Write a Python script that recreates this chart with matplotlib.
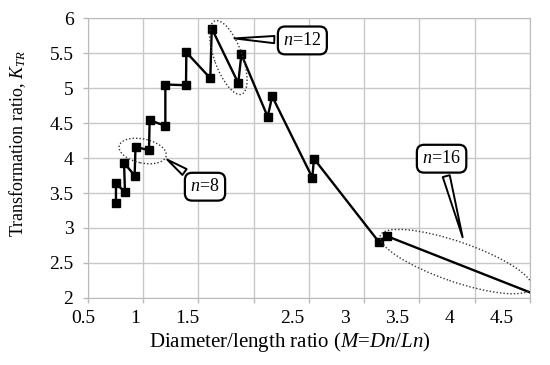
import matplotlib
matplotlib.use('Agg')
import matplotlib.pyplot as plt
from matplotlib.patches import Ellipse
from matplotlib.transforms import ScaledTranslation

dn_ln = [0.753, 0.753, 0.835, 0.826, 0.922, 0.93, 1.052, 1.058, 1.2, 1.2, 1.387, 1.39,
         1.607, 1.62, 1.86, 1.888, 2.126, 2.167, 2.53, 2.545, 3.133, 3.202, 4.5]
k_tr = [3.36, 3.64, 3.51, 3.93, 3.75, 4.16, 4.11, 4.54, 4.46, 5.05, 5.04, 5.51,
        5.14, 5.85, 5.07, 5.48, 4.59, 4.88, 3.72, 3.99, 2.80, 2.886, 2.08]
x_ticks = [0.5, 1, 1.5, 2, 2.5, 3, 3.5, 4, 4.5]
x_tick_labels = ['0.5', '1', '1.5', '', '2.5', '3', '3.5', '4', '4.5']
y_ticks = [2, 2.5, 3, 3.5, 4, 4.5, 5, 5.5, 6]
y_tick_labels = ['2', '2.5', '3', '3.5', '4', '4.5', '5', '5.5', '6']

# groups: label, ellipse centre, ellipse size (px), angle, text pos, tail tip
groups = [
    ('8', (0.995, 4.10), 48, 24, -12, (1.559, 3.59), (1.197, 4.00)),
    ('12', (1.77, 5.436), 78, 28, -70, (2.44, 5.68), (1.80, 5.71)),
    ('16', (3.83, 2.52), 160, 40, -19, (3.70, 3.99), (3.897, 2.83)),
]

plt.rcParams['font.family'] = 'Liberation Serif'
plt.rcParams['mathtext.fontset'] = 'custom'
plt.rcParams['mathtext.rm'] = 'Liberation Serif'
plt.rcParams['mathtext.it'] = 'Liberation Serif:italic'

fig = plt.figure(figsize=(5.5, 3.65), dpi=100)
ax = fig.add_axes([0.16, 0.1836, 0.8036, 0.767])

ax.plot(dn_ln, k_tr, color='black', linewidth=1.7, marker='s', markersize=6,
        markevery=list(range(len(dn_ln) - 1)), zorder=3)

for lab, c, w, h, ang, tpos, tip in groups:
    tr = fig.dpi_scale_trans + ScaledTranslation(c[0], c[1], ax.transData)
    ax.add_patch(Ellipse((0, 0), w / 100, h / 100, angle=ang, transform=tr,
                         fill=False, edgecolor='#333333', linestyle=(0, (1, 1.5)),
                         linewidth=1.0, zorder=4))
    ax.annotate('$n$=' + lab, xy=tip, xytext=tpos, ha='center', va='center',
                fontsize=13, zorder=5,
                bbox=dict(boxstyle='round,pad=0.3,rounding_size=0.4', fc='white',
                          ec='black', lw=1.6),
                arrowprops=dict(arrowstyle='wedge,tail_width=0.4,shrink_factor=0.5',
                                fc='white', ec='black', lw=1.4))

ax.set_xlim(0.5, 4.5)
ax.set_ylim(2, 6)
ax.set_xticks(x_ticks)
ax.set_xticklabels(x_tick_labels)
ax.set_yticks(y_ticks)
ax.set_yticklabels(y_tick_labels)
ax.tick_params(labelsize=14, color='#bbbbbb', length=3.5, width=1)
ax.tick_params(axis='x', pad=5)
ax.tick_params(axis='y', pad=7)
ax.grid(True, color='#c8c8c8', linewidth=1)
ax.set_axisbelow(True)
for s in ax.spines.values():
    s.set_color('#bbbbbb')

# x tick labels in the source sit a little left of their gridlines
for t, xv in zip(ax.get_xticklabels(), x_ticks):
    dx = (-5 - 5.75 * (xv - 0.5)) / 100
    t.set_transform(t.get_transform() + ScaledTranslation(dx, 0, fig.dpi_scale_trans))

ax.set_xlabel('Diameter/length ratio ($M$=$Dn$/$Ln$)', fontsize=15)
ax.set_ylabel('Transformation ratio, $K_{TR}$', fontsize=13)
ax.xaxis.set_label_coords(0.457, -0.115)
ax.yaxis.set_label_coords(-0.135, 0.55)

plt.savefig('out.png', dpi=100)
